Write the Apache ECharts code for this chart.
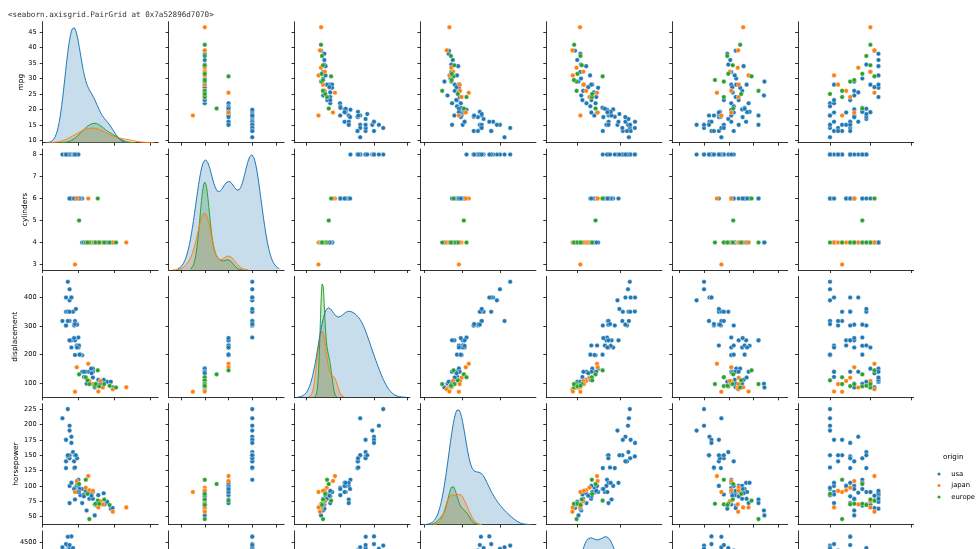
<!DOCTYPE html>
<html>
<head>
<meta charset="utf-8">
<script src="https://cdn.jsdelivr.net/npm/echarts@6.0.0/dist/echarts.min.js"></script>
<style>
html, body { margin: 0; padding: 0; background: #fff; }
#chart { width: 979px; height: 549px; }
</style>
</head>
<body>
<div id="chart"></div>
<script>
// one entry per car, same order in every array (usa 8cyl, usa 6cyl, usa 4cyl, japan, europe)
var mpg = [14, 11, 15, 15, 16, 13, 13, 16, 16.9, 14, 15, 15, 14, 18, 13, 17.5, 13, 17.6, 19.2, 18.5, 19.9, 18,
    22, 18, 21, 19, 16, 15, 19, 16, 20, 18, 19.2, 20.5, 15, 20.2, 19.1, 17.5,
    22, 28, 23, 26, 24.5, 29, 30, 25.5, 32.1, 34.5, 28, 27, 36, 38, 31, 39, 34, 24, 28, 23, 27.2,
    46.6, 18, 25.4, 19, 24, 26, 32.2, 33.5, 39.1, 31, 28,
    26, 20.3, 30.7, 40.9, 24, 29, 25, 29.5, 34.3, 31.5, 37.3];
var cylinders = [8, 8, 8, 8, 8, 8, 8, 8, 8, 8, 8, 8, 8, 8, 8, 8, 8, 8, 8, 8, 8, 8,
    6, 6, 6, 6, 6, 6, 6, 6, 6, 6, 6, 6, 6, 6, 6, 6,
    4, 4, 4, 4, 4, 4, 4, 4, 4, 4, 4, 4, 4, 4, 4, 4, 4, 4, 4, 4, 4,
    4, 3, 6, 6, 4, 4, 4, 4, 4, 4, 4,
    4, 5, 6, 4, 4, 4, 4, 4, 4, 4, 4];
var displacement = [455, 318, 429, 390, 400, 400, 350, 400, 350, 351, 350, 318, 318, 318, 302, 305, 302, 302, 305, 360, 260, 307,
    198, 199, 200, 232, 225, 250, 232, 250, 225, 250, 231, 200, 250, 232, 225, 258,
    140, 140, 122, 98, 98, 85, 98, 140, 98, 105, 151, 151, 105, 105, 112, 86, 112, 140, 120, 140, 135,
    86, 70, 168, 156, 119, 108, 108, 85, 79, 71, 97,
    97, 131, 145, 85, 121, 90, 110, 97, 97, 89, 91];
var horsepower = [225, 210, 198, 190, 180, 175, 175, 170, 155, 148, 145, 150, 150, 150, 140, 140, 129, 129, 145, 150, 110, 130,
    95, 97, 85, 100, 105, 100, 100, 105, 100, 78, 105, 95, 72, 90, 90, 95,
    72, 90, 86, 79, 60, 52, 68, 89, 70, 70, 90, 90, 74, 63, 85, 64, 88, 92, 79, 83, 84,
    65, 90, 116, 108, 97, 93, 75, 70, 58, 65, 92,
    46, 103, 76, null, 110, 70, 87, 71, 78, 71, 69];
var weight = [4425, 4382, 4341, 3850, 4220, 4464, 4100, 4668, 4360, 4657, 4440, 3399, 4077, 3436, 4294, 4215, 3169, 3725, 3425, 3940, 3365, 3504,
    2833, 2774, 2587, 2634, 3439, 3336, 2901, 3897, 3651, 3574, 3535, 3155, 3432, 3265, 3381, 3193,
    2408, 2264, 2220, 2255, 2164, 2035, 2155, 2755, 2120, 2150, 2678, 2950, 1980, 2125, 2575, 1875, 2395, 2865, 2625, 2639, 2490,
    2110, 2124, 2900, 2930, 2545, 2391, 2265, 1945, 1755, 1773, 2288,
    1950, 2830, 3160, 1835, 2660, 1937, 2672, 1825, 2188, 1990, 2130];
var acceleration = [10, 13.5, 10, 8.5, 11.1, 11.5, 13, 11.5, 14.9, 13.5, 14, 11, 14, 11, 16, 13, 12, 13.4, 13.2, 13, 15.5, 12,
    15.5, 15.5, 16, 13, 15.5, 17, 16, 18.5, 17.7, 21, 19.2, 18.2, 21, 18.2, 18.7, 17.8,
    19, 15.5, 14, 17.7, 22.1, 22.2, 16.5, 15.8, 15.5, 14.9, 16.5, 17.3, 15.3, 14.7, 16.2, 16.4, 18, 16.4, 18.6, 17, 15.7,
    17.9, 13.5, 12.6, 15.5, 17, 15.5, 15.2, 16.8, 16.9, 19, 17,
    21, 15.9, 19.6, 17.3, 14, 14, 17.5, 12.2, 15.8, 14.9, 14.7];
var model_year = [70, 70, 70, 70, 77, 71, 73, 75, 79, 75, 75, 73, 72, 70, 72, 76, 75, 79, 78, 79, 78, 70,
    70, 70, 70, 71, 71, 74, 74, 75, 76, 76, 78, 78, 75, 79, 80, 76,
    71, 71, 71, 76, 76, 76, 78, 77, 80, 79, 80, 82, 82, 82, 82, 81, 82, 82, 82, 75, 81,
    80, 73, 81, 76, 75, 74, 80, 77, 81, 71, 72,
    73, 78, 81, 80, 73, 75, 70, 76, 80, 78, 79];
var origin = ['usa', 'usa', 'usa', 'usa', 'usa', 'usa', 'usa', 'usa', 'usa', 'usa', 'usa',
    'usa', 'usa', 'usa', 'usa', 'usa', 'usa', 'usa', 'usa', 'usa', 'usa', 'usa',
    'usa', 'usa', 'usa', 'usa', 'usa', 'usa', 'usa', 'usa', 'usa', 'usa', 'usa', 'usa', 'usa', 'usa', 'usa', 'usa',
    'usa', 'usa', 'usa', 'usa', 'usa', 'usa', 'usa', 'usa', 'usa', 'usa', 'usa',
    'usa', 'usa', 'usa', 'usa', 'usa', 'usa', 'usa', 'usa', 'usa', 'usa',
    'japan', 'japan', 'japan', 'japan', 'japan', 'japan', 'japan', 'japan', 'japan', 'japan', 'japan',
    'europe', 'europe', 'europe', 'europe', 'europe', 'europe', 'europe', 'europe', 'europe', 'europe', 'europe'];

var hueOrder = ['usa', 'japan', 'europe'];
var colVars = ['mpg', 'cylinders', 'displacement', 'horsepower', 'weight', 'acceleration', 'model_year'];
var rowVars = ['mpg', 'cylinders', 'displacement', 'horsepower', 'weight'];

// tick marks
var xTicks = {
    mpg: [0, 20, 40, 60],
    cylinders: [2, 4, 6, 8, 10],
    displacement: [0, 200, 400, 600],
    horsepower: [0, 100, 200],
    weight: [2000, 4000],
    acceleration: [5, 10, 15, 20, 25],
    model_year: [70, 80, 90]
};
var yTicks = {
    mpg: [10, 15, 20, 25, 30, 35, 40, 45],
    cylinders: [3, 4, 5, 6, 7, 8],
    displacement: [100, 200, 300, 400],
    horsepower: [50, 75, 100, 125, 150, 175, 200, 225],
    weight: [2000, 2500, 3000, 3500, 4000, 4500]
};

var data = {
    mpg: mpg, cylinders: cylinders, displacement: displacement, horsepower: horsepower,
    weight: weight, acceleration: acceleration, model_year: model_year
};
var colors = {usa: '#1f77b4', japan: '#ff7f0e', europe: '#2ca02c'};

// layout of the grid (pixels)
var colLeft0 = 42.7, colPitch = 125.9, cellW = 115.5;
var rowTop0 = 21.7, rowPitch = 127.3, cellH = 121;
// x range of every column (includes the kde tails)
var xRange = {
    mpg: [0, 64.4],
    cylinders: [0.956, 10.68],
    displacement: [-72.5, 614],
    horsepower: [-11.3, 292.6],
    weight: [540, 5912],
    acceleration: [3.57, 26.9],
    model_year: [62.1, 90.7]
};
var nameGap = {mpg: 17, cylinders: 14, displacement: 24, horsepower: 23, weight: 26};

var axisColor = '#000';
var font = 'DejaVu Sans';

function padRange(arr) {
    var lo = Infinity, hi = -Infinity;
    arr.forEach(function (v) {
        if (v == null) return;
        if (v < lo) lo = v;
        if (v > hi) hi = v;
    });
    var p = (hi - lo) * 0.05;
    return [lo - p, hi + p];
}

// gaussian kde per hue, scott bandwidth, cut=3, densities share one norm
function kdeCurves(values) {
    var total = 0;
    values.forEach(function (v) { if (v != null) total++; });
    var out = {}, peak = 0;
    hueOrder.forEach(function (h) {
        var xs = [];
        for (var i = 0; i < values.length; i++) {
            if (origin[i] === h && values[i] != null) xs.push(values[i]);
        }
        var n = xs.length;
        var mean = xs.reduce(function (a, b) { return a + b; }, 0) / n;
        var ss = 0;
        xs.forEach(function (x) { ss += (x - mean) * (x - mean); });
        var sd = Math.sqrt(ss / (n - 1));
        var bw = sd * Math.pow(n, -0.2);
        var lo = Math.min.apply(null, xs) - 3 * bw;
        var hi = Math.max.apply(null, xs) + 3 * bw;
        var pts = [];
        for (var k = 0; k < 200; k++) {
            var x = lo + (hi - lo) * k / 199;
            var d = 0;
            xs.forEach(function (xi) {
                var z = (x - xi) / bw;
                d += Math.exp(-0.5 * z * z);
            });
            d = d / (n * bw * Math.sqrt(2 * Math.PI)) * n / total;
            if (d > peak) peak = d;
            pts.push([x, d]);
        }
        out[h] = pts;
    });
    out.peak = peak;
    return out;
}

var grids = [], xAxes = [], yAxes = [], scatterSeries = [], kdeSeries = [];

rowVars.forEach(function (rv, r) {
    var yr = padRange(data[rv]);
    colVars.forEach(function (cv, c) {
        var g = grids.length;
        grids.push({
            left: colLeft0 + c * colPitch,
            top: rowTop0 + r * rowPitch,
            width: cellW,
            height: cellH,
            outerBoundsMode: 'none',
            containLabel: false
        });
        xAxes.push({
            gridIndex: g,
            type: 'value',
            min: xRange[cv][0],
            max: xRange[cv][1],
            axisLine: {show: true, onZero: false, lineStyle: {color: axisColor, width: 0.8}},
            axisTick: {show: true, length: 3, customValues: xTicks[cv], lineStyle: {color: axisColor, width: 0.8}},
            axisLabel: {show: false},
            splitLine: {show: false}
        });
        var yIdx = yAxes.length;
        yAxes.push({
            gridIndex: g,
            type: 'value',
            min: yr[0],
            max: yr[1],
            name: c === 0 ? rv : '',
            nameLocation: 'middle',
            nameRotate: 90,
            nameGap: nameGap[rv],
            nameTextStyle: {fontFamily: font, fontSize: 7.4, color: '#000'},
            axisLine: {show: true, onZero: false, lineStyle: {color: axisColor, width: 0.8}},
            axisTick: {show: true, length: 3, customValues: yTicks[rv], lineStyle: {color: axisColor, width: 0.8}},
            axisLabel: {
                show: c === 0,
                customValues: yTicks[rv],
                formatter: function (v) { return String(v); },
                margin: 6,
                fontFamily: font,
                fontSize: 6.6,
                color: '#000'
            },
            splitLine: {show: false}
        });

        if (rv === cv) {
            var curves = kdeCurves(data[cv]);
            var dIdx = yAxes.length;
            yAxes.push({gridIndex: g, type: 'value', min: 0, max: curves.peak * 1.05, show: false});
            hueOrder.slice().reverse().forEach(function (h) {
                kdeSeries.push({
                    name: h,
                    type: 'line',
                    xAxisIndex: g,
                    yAxisIndex: dIdx,
                    data: curves[h],
                    showSymbol: false,
                    symbol: 'none',
                    clip: true,
                    itemStyle: {color: colors[h]},
                    lineStyle: {color: colors[h], width: 1},
                    areaStyle: {color: colors[h], opacity: 0.25}
                });
            });
        } else {
            hueOrder.forEach(function (h) {
                var pts = [];
                for (var i = 0; i < origin.length; i++) {
                    if (origin[i] !== h) continue;
                    var xv = data[cv][i], yv = data[rv][i];
                    if (xv == null || yv == null) continue;
                    pts.push([xv, yv]);
                }
                scatterSeries.push({
                    name: h,
                    type: 'scatter',
                    xAxisIndex: g,
                    yAxisIndex: yIdx,
                    data: pts,
                    symbolSize: 4.6,
                    clip: true,
                    itemStyle: {color: colors[h], opacity: 1, borderColor: '#fff', borderWidth: 0.4}
                });
            });
        }
    });
});

var chart = echarts.init(document.getElementById('chart'));
chart.setOption({
    animation: false,
    backgroundColor: '#fff',
    title: {
        text: '<seaborn.axisgrid.PairGrid at 0x7a52896d7070>',
        left: 3,
        top: 6,
        textStyle: {fontFamily: 'DejaVu Sans Mono', fontSize: 7.6, fontWeight: 'normal', color: '#333'}
    },
    legend: {
        data: hueOrder,
        orient: 'vertical',
        left: 930.5,
        top: 465,
        icon: 'circle',
        itemWidth: 14.5,
        itemHeight: 5,
        itemGap: 3.5,
        textStyle: {fontFamily: font, fontSize: 6.8, color: '#000', lineHeight: 8}
    },
    graphic: [{
        type: 'text',
        left: 943,
        top: 454,
        style: {text: 'origin', fontFamily: font, fontSize: 7.2, fill: '#000'}
    }],
    grid: grids,
    xAxis: xAxes,
    yAxis: yAxes,
    series: scatterSeries.concat(kdeSeries)
});
</script>
</body>
</html>
